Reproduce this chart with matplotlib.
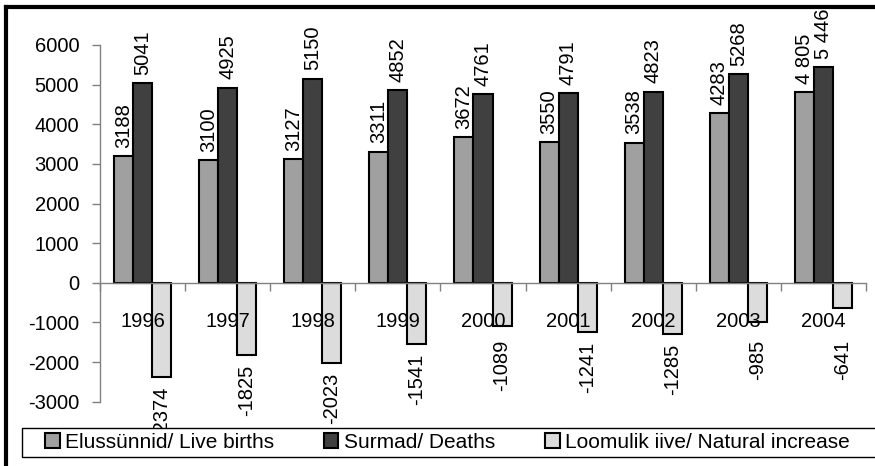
import numpy as np
import matplotlib.pyplot as plt
from matplotlib.lines import Line2D
from matplotlib.patches import Rectangle

plt.rcParams['font.family'] = ['Liberation Sans', 'DejaVu Sans']
plt.rcParams['axes.unicode_minus'] = False

# data
years = ['1996', '1997', '1998', '1999', '2000', '2001', '2002', '2003', '2004']
births = [3188, 3100, 3127, 3311, 3672, 3550, 3538, 4283, 4805]
deaths = [5041, 4925, 5150, 4852, 4761, 4791, 4823, 5268, 5446]
natural = [-2374, -1825, -2023, -1541, -1089, -1241, -1285, -985, -641]
births_lbl = ['3188', '3100', '3127', '3311', '3672', '3550', '3538', '4283', '4 805']
deaths_lbl = ['5041', '4925', '5150', '4852', '4761', '4791', '4823', '5268', '5 446']
natural_lbl = ['-2374', '-1825', '-2023', '-1541', '-1089', '-1241', '-1285', '-985', '-641']
series_names = ['Elussünnid/ Live births', 'Surmad/ Deaths', 'Loomulik iive/ Natural increase']

fs = 14.5
fig = plt.figure(figsize=(8.75, 4.66), dpi=100)
ax = fig.add_axes([100/875, 1 - 401.7/466, 766/875, (401.7 - 45)/466])

x = np.arange(len(years))
w = 0.2235
b1 = ax.bar(x - w, births, w, color='#a0a0a0', edgecolor='black', linewidth=1.5, label=series_names[0])
b2 = ax.bar(x, deaths, w, color='#404040', edgecolor='black', linewidth=1.5, label=series_names[1])
b3 = ax.bar(x + w, natural, w, color='#dcdcdc', edgecolor='black', linewidth=1.5, label=series_names[2])

# rotated value labels
for bars, lbls in [(b1, births_lbl), (b2, deaths_lbl)]:
    for r, t in zip(bars, lbls):
        ax.annotate(t, (r.get_x() + r.get_width() / 2, r.get_height()),
                    xytext=(0, 6), textcoords='offset points', rotation=90,
                    ha='center', va='bottom', fontsize=fs, annotation_clip=False)
# negative labels are kept clear of the year labels
for r, t in zip(b3, natural_lbl):
    ax.annotate(t, (r.get_x() + r.get_width() / 2, min(r.get_height(), -1200)),
                xytext=(0, -7), textcoords='offset points', rotation=90,
                ha='center', va='top', fontsize=fs, annotation_clip=False)

ax.set_xlim(-0.5, len(years) - 0.5)
ax.set_ylim(-3000, 6000)
ax.set_yticks(range(-3000, 6001, 1000))
ax.tick_params(axis='y', length=6, width=1, color='#808080', pad=9, labelsize=fs)

ax.spines['bottom'].set_position(('data', 0))
for s in ['top', 'right']:
    ax.spines[s].set_visible(False)
for s in ['left', 'bottom']:
    ax.spines[s].set_color('#808080')
    ax.spines[s].set_linewidth(1)

ax.set_xticks(x)
ax.set_xticklabels(years)
ax.tick_params(axis='x', which='major', length=0, pad=21, labelsize=fs)
ax.set_xticks(np.arange(-0.5, len(years), 1), minor=True)
ax.tick_params(axis='x', which='minor', length=6, width=1, color='#808080')

# legend box
fig.add_artist(Rectangle((22/875, 1 - 457/466), 900/875, 29/466, transform=fig.transFigure,
                         facecolor='white', edgecolor='black', lw=1, zorder=4))
leg = fig.legend(handles=[b1, b2, b3], loc='center left', ncol=3,
                 bbox_to_anchor=(45/875, 1 - 442.5/466), frameon=False,
                 fontsize=15, handlelength=0.7, handleheight=0.7,
                 handletextpad=0.25, columnspacing=2.4, borderpad=0, borderaxespad=0)
leg.set_zorder(5)

# outer chart frame
fig.add_artist(Line2D([6/875, 6/875], [0, 1 - 7/466], color='black', lw=3, transform=fig.transFigure))
fig.add_artist(Line2D([6/875, 1], [1 - 7/466, 1 - 7/466], color='black', lw=3, transform=fig.transFigure))

fig.savefig('out.png', dpi=100)
